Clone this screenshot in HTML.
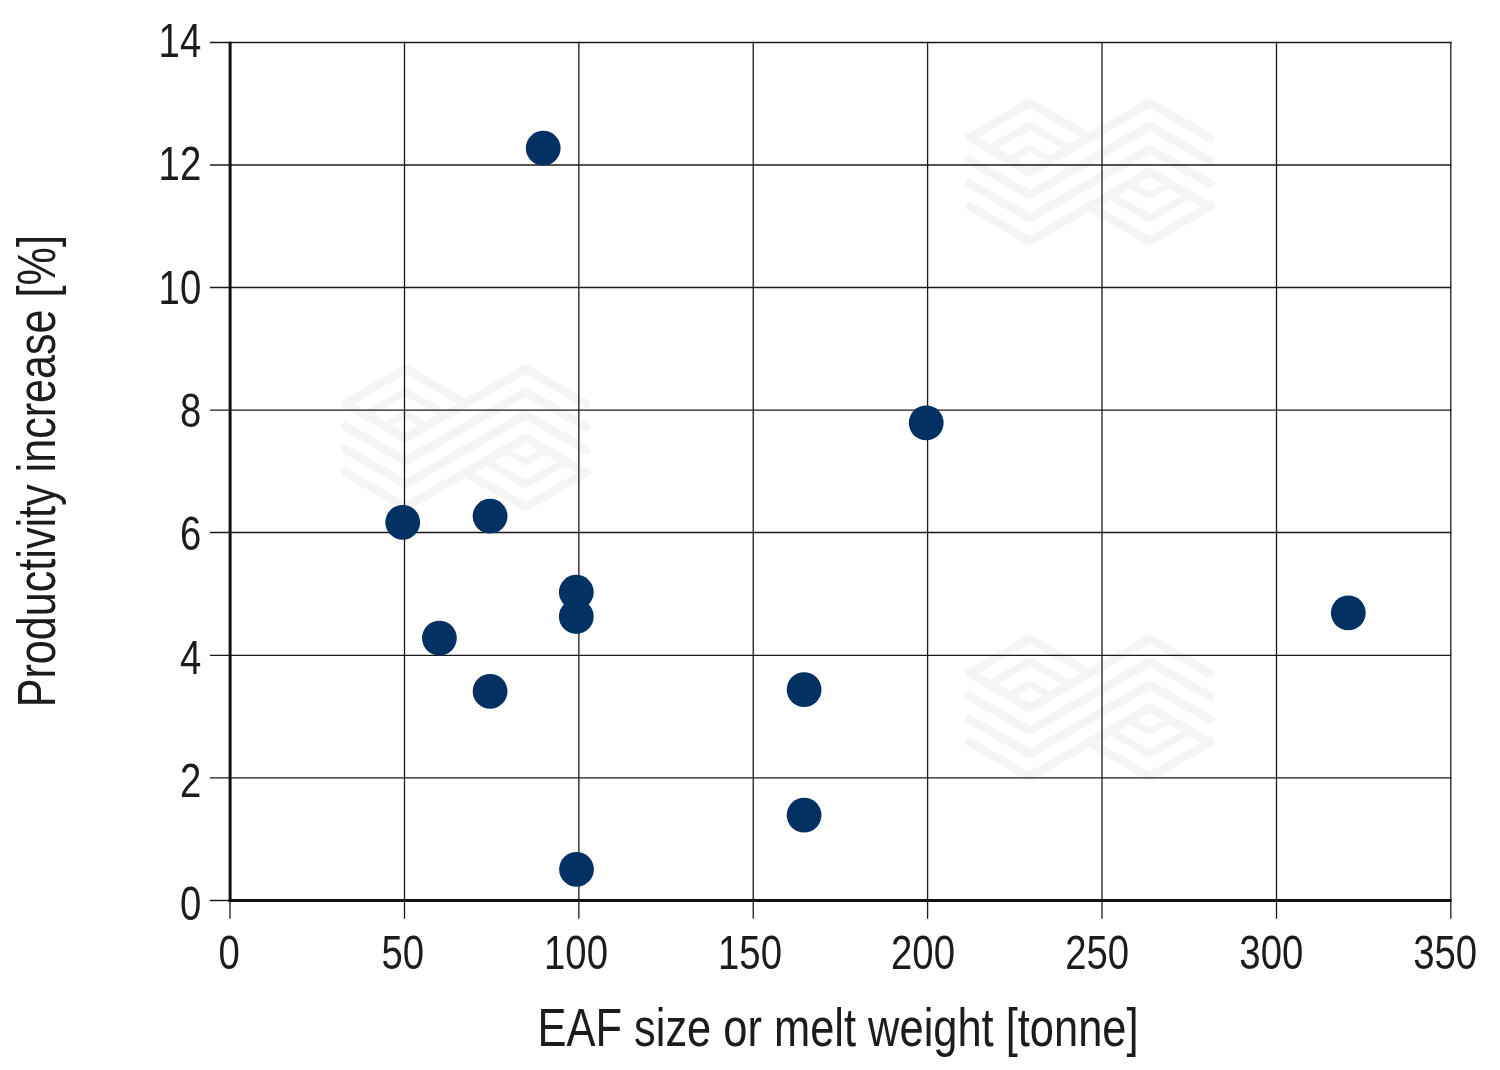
<!DOCTYPE html>
<html><head><meta charset="utf-8"><title>EAF size vs productivity increase</title>
<style>
html,body{margin:0;padding:0;background:#fff;}
body{width:1500px;height:1070px;overflow:hidden;}
svg{display:block;will-change:transform;}
text{font-family:'Liberation Sans', sans-serif;fill:#1c1c1a;}
</style></head><body>
<svg width="1500" height="1070" viewBox="0 0 1500 1070">
<rect width="1500" height="1070" fill="#fff"/>

<g id="wm" fill="none" stroke="#f5f5f5" stroke-width="8.6" stroke-linejoin="round" stroke-linecap="round">
<polyline points="969.10,137.69 1029.60,102.90 1089.60,137.40"/>
<polyline points="969.10,137.11 1029.60,171.90 1149.60,102.90 1210.10,137.69"/>
<polyline points="989.43,148.80 1029.60,125.70 1069.77,148.80" stroke-width="7.6"/>
<polyline points="1008.73,159.90 1029.60,147.90 1050.47,159.90" stroke-width="6.8"/>
<polyline points="969.10,160.11 1029.60,194.90 1149.60,125.90 1210.10,160.69"/>
<polyline points="969.10,183.11 1029.60,217.90 1149.60,148.90 1210.10,183.69"/>
<polyline points="969.10,206.11 1029.60,240.90 1149.60,171.90 1210.10,206.69"/>
<polyline points="1089.60,206.40 1149.60,240.90 1210.10,206.11"/>
<polyline points="1109.43,195.00 1149.60,218.10 1189.77,195.00" stroke-width="7.6"/>
<polyline points="1128.73,183.90 1149.60,195.90 1170.47,183.90" stroke-width="6.8"/>
<polyline points="969.10,673.49 1029.60,638.70 1089.60,673.20"/>
<polyline points="969.10,672.91 1029.60,707.70 1149.60,638.70 1210.10,673.49"/>
<polyline points="989.43,684.60 1029.60,661.50 1069.77,684.60" stroke-width="7.6"/>
<polyline points="1008.73,695.70 1029.60,683.70 1050.47,695.70" stroke-width="6.8"/>
<polyline points="969.10,695.91 1029.60,730.70 1149.60,661.70 1210.10,696.49"/>
<polyline points="969.10,718.91 1029.60,753.70 1149.60,684.70 1210.10,719.49"/>
<polyline points="969.10,741.91 1029.60,776.70 1149.60,707.70 1210.10,742.49"/>
<polyline points="1089.60,742.20 1149.60,776.70 1210.10,741.91"/>
<polyline points="1109.43,730.80 1149.60,753.90 1189.77,730.80" stroke-width="7.6"/>
<polyline points="1128.73,719.70 1149.60,731.70 1170.47,719.70" stroke-width="6.8"/>
<polyline points="345.10,403.79 405.60,369.00 465.60,403.50"/>
<polyline points="345.10,403.21 405.60,438.00 525.60,369.00 586.10,403.79"/>
<polyline points="365.43,414.90 405.60,391.80 445.77,414.90" stroke-width="7.6"/>
<polyline points="384.73,426.00 405.60,414.00 426.47,426.00" stroke-width="6.8"/>
<polyline points="345.10,426.21 405.60,461.00 525.60,392.00 586.10,426.79"/>
<polyline points="345.10,449.21 405.60,484.00 525.60,415.00 586.10,449.79"/>
<polyline points="345.10,472.21 405.60,507.00 525.60,438.00 586.10,472.79"/>
<polyline points="465.60,472.50 525.60,507.00 586.10,472.21"/>
<polyline points="485.43,461.10 525.60,484.20 565.77,461.10" stroke-width="7.6"/>
<polyline points="504.73,450.00 525.60,462.00 546.47,450.00" stroke-width="6.8"/>
</g>
<g stroke="#1a1a1a" stroke-width="1.3" fill="none">
<line x1="404.50" y1="41.80" x2="404.50" y2="918.8"/>
<line x1="578.85" y1="41.80" x2="578.85" y2="918.8"/>
<line x1="753.25" y1="41.80" x2="753.25" y2="918.8"/>
<line x1="927.60" y1="41.80" x2="927.60" y2="918.8"/>
<line x1="1102.00" y1="41.80" x2="1102.00" y2="918.8"/>
<line x1="1276.50" y1="41.80" x2="1276.50" y2="918.8"/>
<line x1="1450.80" y1="41.80" x2="1450.80" y2="918.8"/>
<line x1="230.00" y1="900" x2="230.00" y2="918.8"/>
<line x1="210" y1="777.80" x2="1451.50" y2="777.80"/>
<line x1="210" y1="655.35" x2="1451.50" y2="655.35"/>
<line x1="210" y1="532.50" x2="1451.50" y2="532.50"/>
<line x1="210" y1="410.05" x2="1451.50" y2="410.05"/>
<line x1="210" y1="287.50" x2="1451.50" y2="287.50"/>
<line x1="210" y1="165.00" x2="1451.50" y2="165.00"/>
<line x1="210" y1="42.50" x2="1451.50" y2="42.50"/>
</g>
<g stroke="#121212" fill="none"><line x1="210" y1="900.50" x2="230" y2="900.50" stroke-width="1.4"/><line x1="230.1" y1="41.80" x2="230.1" y2="901.9" stroke-width="3"/><line x1="228.6" y1="900.4" x2="1451.50" y2="900.4" stroke-width="3"/></g>
<g fill="#033162"><circle cx="543.2" cy="148.2" r="17.4"/><circle cx="926.2" cy="422.9" r="17.4"/><circle cx="402.7" cy="522.3" r="17.4"/><circle cx="490.1" cy="516.2" r="17.4"/><circle cx="576.3" cy="592.2" r="17.4"/><circle cx="576.3" cy="616.5" r="17.4"/><circle cx="439.4" cy="638.1" r="17.4"/><circle cx="490.1" cy="691.3" r="17.4"/><circle cx="804.1" cy="689.6" r="17.4"/><circle cx="804.1" cy="815.1" r="17.4"/><circle cx="576.5" cy="869.3" r="17.4"/><circle cx="1348.3" cy="612.9" r="17.4"/></g>
<text text-anchor="middle" font-size="47.6" transform="translate(229.20 968.7) scale(0.805 1)">0</text>
<text text-anchor="middle" font-size="47.6" transform="translate(402.70 968.7) scale(0.805 1)">50</text>
<text text-anchor="middle" font-size="47.6" transform="translate(576.00 968.7) scale(0.805 1)">100</text>
<text text-anchor="middle" font-size="47.6" transform="translate(750.00 968.7) scale(0.805 1)">150</text>
<text text-anchor="middle" font-size="47.6" transform="translate(923.00 968.7) scale(0.805 1)">200</text>
<text text-anchor="middle" font-size="47.6" transform="translate(1097.20 968.7) scale(0.805 1)">250</text>
<text text-anchor="middle" font-size="47.6" transform="translate(1271.30 968.7) scale(0.805 1)">300</text>
<text text-anchor="middle" font-size="47.6" transform="translate(1445.20 968.7) scale(0.805 1)">350</text>
<text text-anchor="end" font-size="47.6" transform="translate(201.2 920.10) scale(0.805 1)">0</text>
<text text-anchor="end" font-size="47.6" transform="translate(201.2 796.80) scale(0.805 1)">2</text>
<text text-anchor="end" font-size="47.6" transform="translate(201.2 673.50) scale(0.805 1)">4</text>
<text text-anchor="end" font-size="47.6" transform="translate(201.2 550.20) scale(0.805 1)">6</text>
<text text-anchor="end" font-size="47.6" transform="translate(201.2 426.90) scale(0.805 1)">8</text>
<text text-anchor="end" font-size="47.6" transform="translate(201.2 303.60) scale(0.805 1)">10</text>
<text text-anchor="end" font-size="47.6" transform="translate(201.2 180.30) scale(0.805 1)">12</text>
<text text-anchor="end" font-size="47.6" transform="translate(201.2 57.00) scale(0.805 1)">14</text>
<text font-size="53.3" transform="translate(537.5 1045.8) scale(0.815 1)">EAF size or melt weight [tonne]</text>
<text font-size="53.3" transform="translate(54.9 707.3) rotate(-90) scale(0.8095 1)">Productivity increase [%]</text>
</svg>
</body></html>
